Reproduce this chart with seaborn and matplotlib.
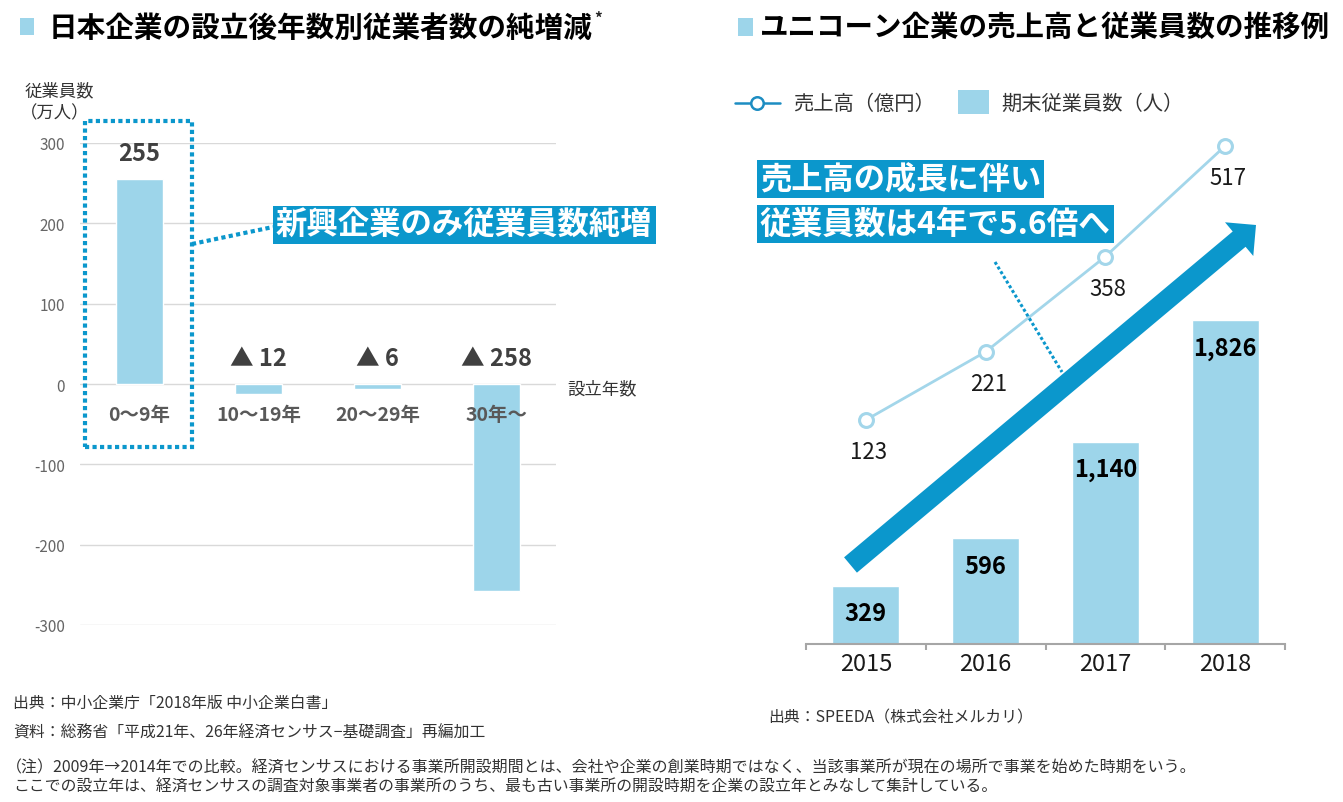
import matplotlib
matplotlib.use("Agg")
import matplotlib.pyplot as plt
import seaborn as sns
from matplotlib.patches import Rectangle, FancyArrow
from matplotlib.lines import Line2D
from matplotlib.transforms import IdentityTransform

#### data
# left: 設立後年数別 従業者数の純増減 (万人)
age_groups = ["0～9年", "10～19年", "20～29年", "30年～"]
net_change = [255, -12, -6, -258]
net_labels = ["255", "▲ 12", "▲ 6", "▲ 258"]
left_yticks = [-300, -200, -100, 0, 100, 200, 300]

# right: ユニコーン企業 (メルカリ)
years = ["2015", "2016", "2017", "2018"]
employees = [329, 596, 1140, 1826]        # 期末従業員数（人）
employee_labels = ["329", "596", "1,140", "1,826"]
sales = [123, 221, 358, 517]              # 売上高（億円）

#### style
sns.set_theme(style="white")
plt.rcParams["font.family"] = ["Noto Sans CJK JP", "DejaVu Sans"]
plt.rcParams["axes.unicode_minus"] = False

BAR = "#9dd5ea"
ACCENT = "#0b97cc"
LINE = "#a3d6ea"
LEG_LINE = "#1d8dc2"
TXT = "#333333"

W, H = 1343, 803
fig = plt.figure(figsize=(W / 100, H / 100), dpi=100)


def fx(px):
    return px / W


def fy(py):
    return 1 - py / H


#### left chart
axL = fig.add_axes([fx(80), fy(626), 476 / W, 482 / H])
sns.barplot(x=age_groups, y=net_change, color=BAR, saturation=1,
            width=0.4, errorbar=None, ax=axL)
axL.set_xlim(-0.5, 3.5)
axL.set_ylim(-300, 300)
axL.set_yticks(left_yticks)
axL.set_xticks([])
axL.set_xlabel("")
axL.set_ylabel("")
axL.grid(axis="y", color="#d9d9d9", lw=1)
axL.set_axisbelow(True)
sns.despine(ax=axL, left=True, bottom=True)
axL.tick_params(axis="y", length=0, pad=11, labelsize=11, labelcolor="#666666")

for i, (v, lab) in enumerate(zip(net_change, net_labels)):
    axL.annotate(lab, (i, max(v, 0)), xytext=(0, 19), textcoords="offset points",
                 ha="center", va="center", fontsize=17, fontweight="bold",
                 color="#404040")
    axL.annotate(age_groups[i], (i, 0), xytext=(0, -22), textcoords="offset points",
                 ha="center", va="center", fontsize=14, fontweight="bold",
                 color="#595959")

# highlight box round the first bar
axL.add_patch(Rectangle((-0.458, -78.4), 0.895, 406.2, fill=False, ec=ACCENT,
                        lw=3, ls=(0, (1, 0.8)), clip_on=False))
fig.add_artist(Line2D([fx(192), fx(273)], [fy(245), fy(228)], color=ACCENT,
                      lw=3, ls=(0, (1, 0.8))))
fig.text(fx(276), fy(226), "新興企業のみ従業員数純増", fontsize=22.6,
         fontweight="bold", color="white", va="center", ha="left",
         bbox=dict(boxstyle="square,pad=0.1", fc=ACCENT, ec="none"))

fig.text(fx(567), fy(389), "設立年数", fontsize=12.5, va="center", color=TXT)
fig.text(fx(25), fy(91), "従業員数", fontsize=12.5, va="center", color=TXT)
fig.text(fx(20), fy(113), "（万人）", fontsize=12.5, va="center", color=TXT)

#### right chart
axR = fig.add_axes([fx(806), fy(645), 479 / W, 545 / H])
sns.barplot(x=years, y=employees, color=BAR, saturation=1,
            width=0.56, errorbar=None, ax=axR)
axR.set_ylim(0, 545 / 0.1775)
axR2 = axR.twinx()
sns.lineplot(x=list(range(len(years))), y=sales, ax=axR2, color=LINE,
             linewidth=2, marker="o", markersize=10, markerfacecolor="white",
             markeredgecolor=LINE, markeredgewidth=2.2)
axR2.set_ylim((506.5 - 645) / 0.6954, (506.5 - 100) / 0.6954)
axR2.axis("off")
axR.set_xlim(-0.5, 3.5)

axR.set_xlabel("")
axR.set_ylabel("")
axR.set_yticks([])
for s in ["left", "right", "top"]:
    axR.spines[s].set_visible(False)
axR.spines["bottom"].set_color("#a6a6a6")
axR.spines["bottom"].set_linewidth(1.5)
axR.set_xticks(range(len(years)))
axR.set_xticklabels(years)
axR.set_xticks([i - 0.5 for i in range(len(years) + 1)], minor=True)
axR.tick_params(axis="x", which="major", length=0, pad=6, labelsize=17,
                labelcolor="#1a1a1a")
axR.tick_params(axis="x", which="minor", bottom=True, length=4.5, width=1.5,
                color="#a6a6a6", direction="out")

for i, (v, lab) in enumerate(zip(employees, employee_labels)):
    axR.annotate(lab, (i, v), xytext=(0, -20), textcoords="offset points",
                 ha="center", va="center", fontsize=17, fontweight="bold",
                 color="black")
for i, s in enumerate(sales):
    axR2.annotate(str(s), (i, s), xytext=(2, -23), textcoords="offset points",
                  ha="center", va="center", fontsize=16, color="#1a1a1a")

# big arrow (display pixels)
fig.add_artist(FancyArrow(850.5, H - 566, 405.5, 340, width=20,
                          head_width=44, head_length=22,
                          length_includes_head=True, color=ACCENT, lw=0,
                          transform=IdentityTransform()))
fig.add_artist(Line2D([fx(995), fx(1062)], [fy(263), fy(373)], color=ACCENT,
                      lw=2.2, ls=(0, (1, 0.8))))
fig.text(fx(760), fy(180), "売上高の成長に伴い", fontsize=22.5, fontweight="bold",
         color="white", va="center", bbox=dict(boxstyle="square,pad=0.1",
                                               fc=ACCENT, ec="none"))
fig.text(fx(760), fy(225), "従業員数は4年で5.6倍へ", fontsize=22.8,
         fontweight="bold", color="white", va="center",
         bbox=dict(boxstyle="square,pad=0.1", fc=ACCENT, ec="none"))

# legend
fig.add_artist(Line2D([fx(735), fx(780)], [fy(104), fy(104)], color=LEG_LINE, lw=1.8))
fig.add_artist(Line2D([fx(757)], [fy(104)], marker="o", ms=9, mfc="white",
                      mec=LEG_LINE, mew=1.8, ls="none"))
fig.text(fx(793), fy(104), "売上高（億円）", fontsize=14.6, va="center", color=TXT)
fig.add_artist(Rectangle((fx(958), fy(115)), 31 / W, 24 / H, fc=BAR, ec="none",
                         transform=fig.transFigure))
fig.text(fx(1001), fy(104), "期末従業員数（人）", fontsize=14.6, va="center", color=TXT)

#### titles
fig.add_artist(Rectangle((fx(20), fy(36)), 14 / W, 17 / H, fc=BAR, ec="none",
                         transform=fig.transFigure))
title_l = fig.text(fx(49), fy(28), "日本企業の設立後年数別従業者数の純増減",
                   fontsize=20.6, fontweight="bold", va="center", color="black")
axL.annotate("*", xy=(1, 0.8), xycoords=title_l, xytext=(1, 0),
             textcoords="offset points", ha="left", va="center", fontsize=11,
             fontweight="bold", annotation_clip=False)
fig.add_artist(Rectangle((fx(738), fy(37)), 15 / W, 18 / H, fc=BAR, ec="none",
                         transform=fig.transFigure))
fig.text(fx(760), fy(28), "ユニコーン企業の売上高と従業員数の推移例",
         fontsize=20.5, fontweight="bold", va="center", color="black")

#### sources / notes
fig.text(fx(13), fy(703), "出典：中小企業庁「2018年版 中小企業白書」",
         fontsize=11.4, va="center", color=TXT)
fig.text(fx(13), fy(733), "資料：総務省「平成21年、26年経済センサス−基礎調査」再編加工",
         fontsize=11.4, va="center", color=TXT)
fig.text(fx(768), fy(718), "出典：SPEEDA（株式会社メルカリ）",
         fontsize=11.4, va="center", color=TXT)
fig.text(fx(6), fy(768),
         "（注）2009年→2014年での比較。経済センサスにおける事業所開設期間とは、"
         "会社や企業の創業時期ではなく、当該事業所が現在の場所で事業を始めた時期をいう。",
         fontsize=11.5, va="center", color=TXT)
fig.text(fx(13), fy(787),
         "ここでの設立年は、経済センサスの調査対象事業者の事業所のうち、"
         "最も古い事業所の開設時期を企業の設立年とみなして集計している。",
         fontsize=11.4, va="center", color=TXT)

plt.savefig("out.png", dpi=100)
